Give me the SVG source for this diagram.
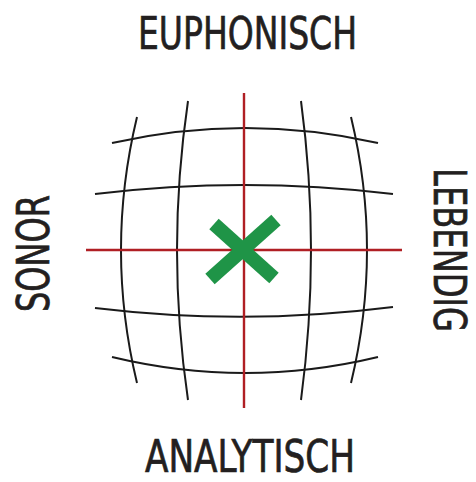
<svg xmlns="http://www.w3.org/2000/svg" width="476" height="482" viewBox="0 0 476 482">
<style>
.grid{fill:none;stroke:#1a1a1a;stroke-width:2}
.axis{stroke:#b01f24;stroke-width:2.4}
.mark{stroke:#1f9447;stroke-width:14;stroke-linecap:butt}
.lbl{font-family:"Liberation Sans Narrow","DejaVu Sans Condensed","Liberation Sans",sans-serif;font-size:45px;fill:#231f20;stroke:#231f20;stroke-width:0.7}
</style>
<rect width="476" height="482" fill="#ffffff"/>
<g id="grid">
<path class="grid" d="M112,143 Q245,113 378,143"/>
<path class="grid" d="M95,194 Q244,176 393,194"/>
<path class="grid" d="M95,308 Q244,326 393,307"/>
<path class="grid" d="M112,357 Q245,389 378,357"/>
<path class="grid" d="M137,117 Q105,250 137,383"/>
<path class="grid" d="M188,101 Q166,250 188,400"/>
<path class="grid" d="M301,101 Q321,250 301,400"/>
<path class="grid" d="M351,117 Q383,250 351,383"/>
</g>
<g id="axes">
<line class="axis" x1="244" y1="93" x2="244" y2="408"/>
<line class="axis" x1="86" y1="250" x2="402" y2="250"/>
</g>
<g id="marker">
<line class="mark" x1="214" y1="224" x2="274" y2="278"/>
<line class="mark" x1="276" y1="220" x2="210" y2="279"/>
</g>
<g id="label-top"><text class="lbl" x="138" y="49" textLength="219" lengthAdjust="spacingAndGlyphs">EUPHONISCH</text></g>
<g id="label-bottom"><text class="lbl" x="145" y="472" textLength="210" lengthAdjust="spacingAndGlyphs">ANALYTISCH</text></g>
<g id="label-left"><text class="lbl" transform="translate(49,312) rotate(-90)" x="0" y="0" textLength="117" lengthAdjust="spacingAndGlyphs">SONOR</text></g>
<g id="label-right"><text class="lbl" transform="translate(434,168) rotate(90)" x="0" y="0" textLength="164" lengthAdjust="spacingAndGlyphs">LEBENDIG</text></g>
</svg>
